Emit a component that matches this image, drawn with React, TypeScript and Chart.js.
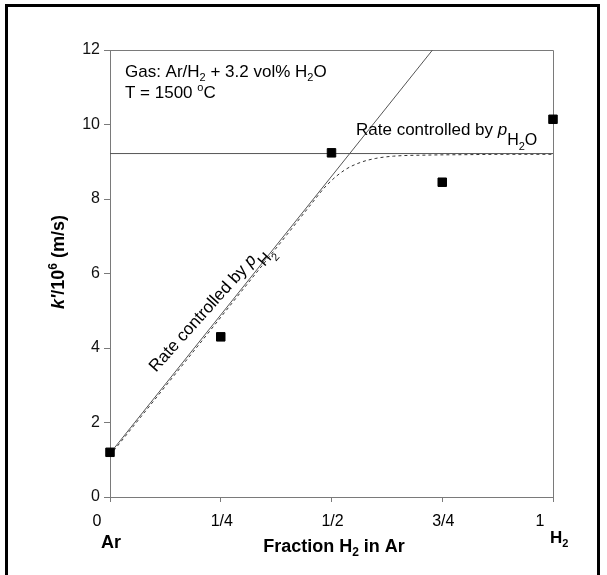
import React, { useEffect, useRef } from 'react';
import { Chart, registerables } from 'chart.js';

Chart.register(...registerables);

// ---- data ----
const X_TICKS = [0, 0.25, 0.5, 0.75, 1];
const X_TICK_LABELS = ['0', '1/4', '1/2', '3/4', '1'];
const Y_MIN = 0;
const Y_MAX = 12;
const Y_STEP = 2;

const MEASURED_X = [0, 0.25, 0.5, 0.75, 1];
const MEASURED_Y = [1.2, 4.3, 9.24, 8.45, 10.14];

const H2O_LIMIT_X = [0, 1];
const H2O_LIMIT_Y = [9.22, 9.22];

const H2_LIMIT_X = [0, 0.728];
const H2_LIMIT_Y = [1.17, 12];

const MODEL_X = [0, 0.1, 0.2, 0.3, 0.4, 0.45, 0.49, 0.53, 0.565, 0.6, 0.64, 0.72, 0.8, 0.9, 1.0];
const MODEL_Y = [1.12, 2.6, 4.08, 5.57, 7.05, 7.8, 8.38, 8.78, 8.98, 9.09, 9.15, 9.18, 9.19, 9.2, 9.2];

// ---- styles ----
const FAMILY = '"Liberation Sans", Arial, Helvetica, sans-serif';
const AXIS_GRAY = '#7a7a7a';
const LINE_GRAY = '#555555';
const X_LABEL_SHIFT = [-13, 1, 1, 1, -13];

type Seg = { t: string; size: number; dy?: number; italic?: boolean; bold?: boolean };

function fontOf(s: Seg) {
  return `${s.italic ? 'italic ' : ''}${s.bold ? 'bold ' : ''}${s.size}px ${FAMILY}`;
}

function richWidth(ctx: CanvasRenderingContext2D, segs: Seg[]) {
  let w = 0;
  for (const s of segs) {
    ctx.font = fontOf(s);
    w += ctx.measureText(s.t).width;
  }
  return w;
}

function drawRich(ctx: CanvasRenderingContext2D, segs: Seg[], x: number, y: number, align: 'left' | 'center') {
  const w = richWidth(ctx, segs);
  let cx = align === 'center' ? x - w / 2 : x;
  ctx.textAlign = 'left';
  ctx.textBaseline = 'alphabetic';
  for (const s of segs) {
    ctx.font = fontOf(s);
    ctx.fillText(s.t, cx, y + (s.dy || 0));
    cx += ctx.measureText(s.t).width;
  }
}

const pts = (xs: number[], ys: number[]) => xs.map((x, i) => ({ x, y: ys[i] }));

const decorPlugin = {
  id: 'decor',
  beforeDraw(chart: any) {
    const ctx: CanvasRenderingContext2D = chart.ctx;
    ctx.save();
    ctx.fillStyle = '#ffffff';
    ctx.fillRect(0, 0, chart.width, chart.height);
    // outer frame (open at the bottom)
    ctx.strokeStyle = '#000000';
    ctx.lineWidth = 3;
    ctx.beginPath();
    ctx.moveTo(6.5, chart.height);
    ctx.lineTo(6.5, 5.5);
    ctx.lineTo(598.5, 5.5);
    ctx.lineTo(598.5, chart.height);
    ctx.stroke();
    ctx.restore();
  },
  beforeDatasetsDraw(chart: any) {
    const ctx: CanvasRenderingContext2D = chart.ctx;
    const a = chart.chartArea;
    ctx.save();
    ctx.strokeStyle = AXIS_GRAY;
    ctx.lineWidth = 1;
    ctx.beginPath();
    ctx.moveTo(Math.round(a.left) + 0.5, Math.round(a.top) + 0.5);
    ctx.lineTo(Math.round(a.right) + 0.5, Math.round(a.top) + 0.5);
    ctx.lineTo(Math.round(a.right) + 0.5, Math.round(a.bottom) + 0.5);
    ctx.stroke();
    ctx.restore();
  },
  afterDraw(chart: any) {
    const ctx: CanvasRenderingContext2D = chart.ctx;
    const xs = chart.scales.x;
    ctx.save();
    ctx.fillStyle = '#000000';

    // x tick labels
    X_TICKS.forEach((v, i) => {
      const px = xs.getPixelForValue(v) + X_LABEL_SHIFT[i];
      drawRich(ctx, [{ t: X_TICK_LABELS[i], size: 16 }], px, 526, 'center');
    });

    // x axis title and end labels
    drawRich(ctx, [
      { t: 'Fraction H', size: 18, bold: true },
      { t: '2', size: 12, bold: true, dy: 4 },
      { t: ' in Ar', size: 18, bold: true },
    ], 334, 552, 'center');
    drawRich(ctx, [{ t: 'Ar', size: 18, bold: true }], 111, 548, 'center');
    drawRich(ctx, [
      { t: 'H', size: 17, bold: true },
      { t: '2', size: 11, bold: true, dy: 4 },
    ], 550, 543, 'left');

    // y axis title
    ctx.save();
    ctx.translate(58, 262);
    ctx.rotate(-Math.PI / 2);
    drawRich(ctx, [
      { t: "k'", size: 18, bold: true, italic: true },
      { t: '/10', size: 18, bold: true },
      { t: '6', size: 12, bold: true, dy: -7 },
      { t: ' (m/s)', size: 18, bold: true },
    ], 0, 6, 'center');
    ctx.restore();

    // conditions text
    drawRich(ctx, [
      { t: 'Gas: Ar/H', size: 17 },
      { t: '2', size: 11, dy: 4 },
      { t: ' + 3.2 vol% H', size: 17 },
      { t: '2', size: 11, dy: 4 },
      { t: 'O', size: 17 },
    ], 125, 77, 'left');
    drawRich(ctx, [
      { t: 'T = 1500 ', size: 17 },
      { t: 'o', size: 11, dy: -7 },
      { t: 'C', size: 17 },
    ], 125, 98, 'left');

    // horizontal limit label
    drawRich(ctx, [
      { t: 'Rate controlled by ', size: 17 },
      { t: 'p', size: 17, italic: true },
      { t: 'H', size: 16, dy: 10 },
      { t: '2', size: 11, dy: 15 },
      { t: 'O', size: 16, dy: 10 },
    ], 356, 135, 'left');

    // diagonal limit label
    ctx.save();
    ctx.translate(208, 306);
    ctx.rotate(-48 * Math.PI / 180);
    drawRich(ctx, [
      { t: 'Rate controlled by ', size: 17 },
      { t: 'p', size: 17, italic: true },
      { t: 'H', size: 16, dy: 10 },
      { t: '2', size: 11, dy: 15 },
    ], 0, 6, 'center');
    ctx.restore();

    ctx.restore();
  },
};

export default function App() {
  const ref = useRef<HTMLCanvasElement | null>(null);

  useEffect(() => {
    if (!ref.current) return;
    const chart = new Chart(ref.current, {
      type: 'scatter',
      data: {
        datasets: [
          {
            label: 'measured',
            data: pts(MEASURED_X, MEASURED_Y),
            pointStyle: 'rect',
            pointRadius: 6,
            pointBackgroundColor: '#000000',
            pointBorderColor: '#000000',
            pointBorderWidth: 1,
            showLine: false,
            clip: false,
          },
          {
            label: 'H2O limit',
            data: pts(H2O_LIMIT_X, H2O_LIMIT_Y),
            showLine: true,
            borderColor: LINE_GRAY,
            borderWidth: 1,
            pointRadius: 0,
          },
          {
            label: 'H2 limit',
            data: pts(H2_LIMIT_X, H2_LIMIT_Y),
            showLine: true,
            borderColor: LINE_GRAY,
            borderWidth: 1,
            pointRadius: 0,
          },
          {
            label: 'model',
            data: pts(MODEL_X, MODEL_Y),
            showLine: true,
            borderColor: '#333333',
            borderWidth: 1,
            borderDash: [3, 3],
            pointRadius: 0,
            cubicInterpolationMode: 'monotone',
          },
        ],
      },
      options: {
        animation: false,
        responsive: false,
        events: [],
        layout: { padding: { left: 0, top: 50, right: 54, bottom: 0 } },
        plugins: { legend: { display: false }, tooltip: { enabled: false } },
        scales: {
          x: {
            type: 'linear',
            min: 0,
            max: 1,
            afterBuildTicks: (scale: any) => {
              scale.ticks = X_TICKS.map((v) => ({ value: v }));
            },
            afterFit: (scale: any) => {
              scale.height = 78;
            },
            ticks: { color: 'rgba(0,0,0,0)', font: { size: 16, family: FAMILY } },
            grid: {
              display: true,
              drawOnChartArea: false,
              drawTicks: true,
              tickLength: 5,
              color: AXIS_GRAY,
            },
            border: { display: true, color: AXIS_GRAY, width: 1 },
          },
          y: {
            type: 'linear',
            min: Y_MIN,
            max: Y_MAX,
            ticks: {
              stepSize: Y_STEP,
              color: '#111111',
              padding: 4,
              font: { size: 16, family: FAMILY },
            },
            afterFit: (scale: any) => {
              scale.width = 110;
            },
            grid: {
              display: true,
              drawOnChartArea: false,
              drawTicks: true,
              tickLength: 6,
              color: AXIS_GRAY,
            },
            border: { display: true, color: AXIS_GRAY, width: 1 },
          },
        },
      },
      plugins: [decorPlugin],
    } as any);
    return () => chart.destroy();
  }, []);

  return (
    <div style={{ position: 'fixed', left: 0, top: 0, width: 607, height: 575, background: '#fff' }}>
      <canvas ref={ref} width={607} height={575} style={{ display: 'block', width: 607, height: 575 }} />
    </div>
  );
}
